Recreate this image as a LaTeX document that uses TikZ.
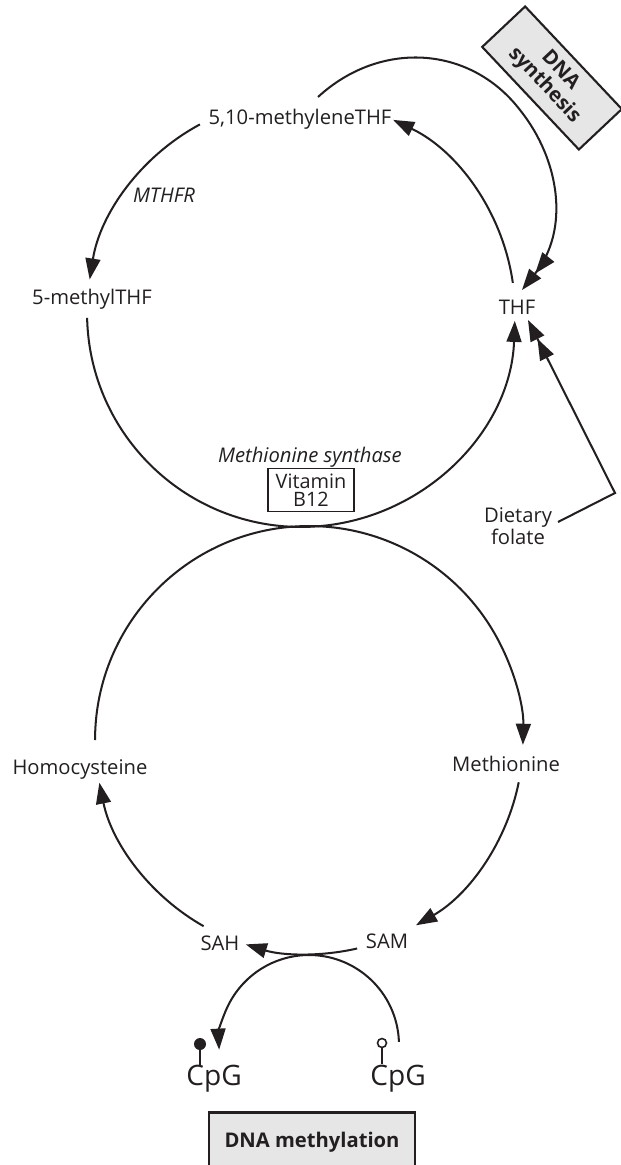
\documentclass[tikz,border=0pt]{standalone}
\usepackage{fontspec}
\setmainfont{Open Sans}
\usetikzlibrary{arrows.meta,calc}
\definecolor{ink}{HTML}{231F20}
\definecolor{boxfill}{HTML}{E6E6E6}
\tikzset{
  lbl/.style={font=\fontsize{11.5}{13}\selectfont, text=ink, inner sep=0pt, anchor=base},
  enz/.style={lbl, font=\fontsize{11.5}{13}\selectfont\itshape},
  big/.style={lbl, font=\fontsize{16}{18}\selectfont},
  conn/.style={draw=ink, line width=1.15pt, -{Triangle[length=12pt,width=8.5pt]}},
  dconn/.style={draw=ink, line width=1.15pt, -{Triangle[length=12pt,width=8.5pt]Triangle[length=12pt,width=8.5pt]}},
  graybox/.style={draw=ink, fill=boxfill, line width=1.2pt, text=ink,
    font=\fontsize{11.5}{12.5}\selectfont\bfseries, align=center, inner sep=2pt},
  vitbox/.style={draw=ink, line width=0.6pt, text=ink, align=center, inner sep=1pt,
    font=\fontsize{11.3}{10.3}\selectfont, minimum width=1.72cm, minimum height=0.86cm},
}
\begin{document}
\begin{tikzpicture}[x=0.02cm,y=0.02cm]
\useasboundingbox (0,0) rectangle (620,-1165);
\coordinate (C1) at (301,-313);
\coordinate (C2) at (309,-740);
\coordinate (C3) at (309,-1045);
\def\Ra{4.28cm}
\def\Rc{1.8cm}

% labels
\node[lbl] (mthf) at (300,-125) {5,10-methyleneTHF};
\node[lbl] (methyl) at (92,-305) {5-methylTHF};
\node[lbl] (thf) at (517,-315) {THF};
\node[enz] (mthfr) at (164,-203) {MTHFR};
\node[enz] (ms) at (310,-462) {Methionine synthase};
\node[vitbox] (b12) at (311,-490) {Vitamin\\B12};
\node[lbl, anchor=center, align=center, font=\fontsize{11.5}{11.3}\selectfont] (diet) at (518,-526) {Dietary\\folate};
\node[lbl] (hcy) at (80,-774) {Homocysteine};
\node[lbl] (met) at (506,-771) {Methionine};
\node[lbl] (sah) at (220,-950) {SAH};
\node[lbl] (sam) at (387,-948) {SAM};
\node[big] (cpg1) at (214,-1085) {CpG};
\node[big] (cpg2) at (398,-1085) {CpG};
\node[graybox, rotate=-46.7, minimum width=2.82cm, minimum height=1.18cm] (dnas) at (552,-78) {DNA\\synthesis};
\node[graybox, minimum width=4.12cm, minimum height=1.18cm] (dnam) at (312,-1142) {DNA methylation};

% folate cycle
\draw[conn] (C1) ++(118.2:\Ra) arc[start angle=118.2, end angle=171, radius=\Ra];
\draw[conn] (C1) ++(181.3:\Ra) arc[start angle=181.3, end angle=357.9, radius=\Ra];
\draw[conn] (C1) ++(8.1:\Ra) arc[start angle=8.1, end angle=64.5, radius=\Ra];

% DNA synthesis branch
\coordinate (ds0) at (318,-97);
\coordinate (ds1) at (520,-110);
\coordinate (ds2) at (522,-290);
\draw[dconn] (ds0) .. controls (380,-40) and (470,-45) .. (ds1)
  .. controls (560,-160) and (570,-230) .. (ds2);

% dietary folate
\coordinate (df0) at (558,-522);
\coordinate (df1) at (615,-493);
\coordinate (df2) at (528,-320);
\draw[dconn] (df0) -- (df1) -- (df2);

% methionine cycle
\draw[conn] (C2) ++(180:\Ra) arc[start angle=180, end angle=-1.3, radius=\Ra];
\draw[conn] (C2) ++(-11.4:\Ra) arc[start angle=-11.4, end angle=-60, radius=\Ra];
\draw[conn] (C2) ++(-77:\Ra) arc[start angle=-77, end angle=-107.2, radius=\Ra];
\draw[conn] (C2) ++(240.5:\Ra) arc[start angle=240.5, end angle=191.5, radius=\Ra];

% methylation arc
\draw[conn] (C3) ++(2:\Rc) arc[start angle=2, end angle=183, radius=\Rc];

% CpG lollipops
\coordinate (p1) at (200,-1044);
\coordinate (p2) at (382,-1043);
\draw[ink, line width=1pt] (p1) -- (200,-1066);
\fill[ink] (p1) circle (0.12cm);
\draw[ink, line width=1pt] ($(p2)+(0,-4.5)$) -- (382,-1064);
\draw[ink, line width=0.9pt] (p2) circle (0.09cm);
\end{tikzpicture}
\end{document}
